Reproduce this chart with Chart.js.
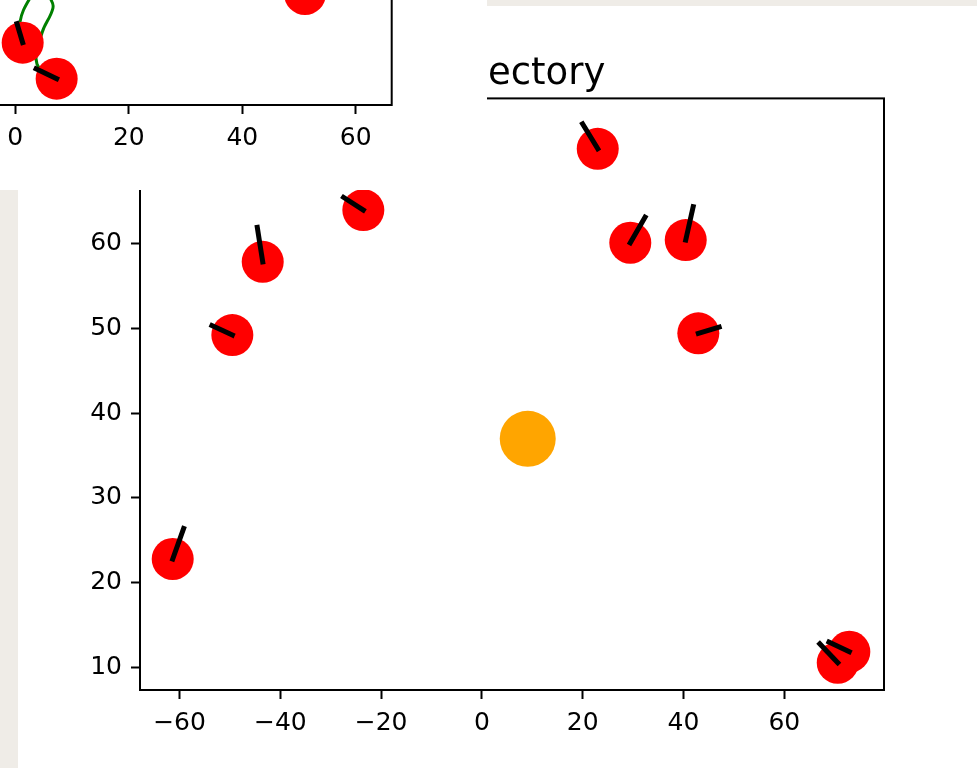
<!DOCTYPE html>
<html>
<head>
<meta charset="utf-8">
<script src="https://cdn.jsdelivr.net/npm/chart.js@4.4.1/dist/chart.umd.min.js"></script>
<style>
    html, body { margin: 0; padding: 0; }
    body {
        width: 977px; height: 768px; overflow: hidden; position: relative;
        background: #efece7;
    }
    #mainWin { position: absolute; left: 18px; top: 6px; width: 959px; height: 762px; background: #fff; overflow: hidden; }
    #mainChart { position: absolute; left: 0; top: 0; }
    #smallWin { position: absolute; left: 0; top: 0; width: 487px; height: 190px; background: #fff; overflow: hidden; }
    #smallChart { position: absolute; left: -200px; top: -200px; }
</style>
</head>
<body>
<div id="mainWin"><canvas id="mainChart" width="992" height="762"></canvas></div>
<div id="smallWin"><canvas id="smallChart" width="687" height="390"></canvas></div>

<script>
// ---- main window: robots, headings (deg), goal ----
const robotX = [-61.35, -49.52, -43.49, -23.53, 22.98, 29.44, 40.44, 42.94, 70.60, 72.90];
const robotY = [22.77, 49.22, 57.87, 63.98, 71.22, 60.12, 60.44, 49.42, 10.52, 11.82];
const robotHeading = [59.0, 164.6, 104.9, 159.0, 135.6, 45.8, 69.4, 10.2, 147.9, 164.2];
const goalX = [9.09];
const goalY = [36.97];
const xTicks = [-60, -40, -20, 0, 20, 40, 60];
const yTicks = [10, 20, 30, 40, 50, 60, 70];
const HEADING_LEN = 4.2;

// ---- small window behind (earlier figure) ----
const prevX = [1.30, 7.29, 51.05];
const prevY = [13.40, 5.66, 23.87];
const prevHeading = [103.8, 149.6, 100];
const pathX = [7.29, 3.82, 4.70, 6.64, 6.11, 4.35, 2.59, 0.83, 1.30];
const pathY = [5.66, 8.82, 15.48, 20.86, 23.0, 25.2, 23.0, 17.85, 13.40];
const prevXTicks = [0, 20, 40, 60];

const FONT = 'DejaVu Sans';

// heading sticks: one small line dataset per robot
function headingSets(xs, ys, hs) {
    return xs.map((x, i) => {
        const a = hs[i] * Math.PI / 180;
        return {
            data: [
                { x: x, y: ys[i] },
                { x: x + HEADING_LEN * Math.cos(a), y: ys[i] + HEADING_LEN * Math.sin(a) }
            ],
            showLine: true,
            borderColor: '#000000',
            borderWidth: 5,
            borderCapStyle: 'square',
            pointRadius: 0,
            order: 0
        };
    });
}

function toPoints(xs, ys) {
    return xs.map((x, i) => ({ x: x, y: ys[i] }));
}

// box around the plot area (matplotlib spines)
const spines = {
    id: 'spines',
    afterDatasetsDraw(chart) {
        const a = chart.chartArea;
        const ctx = chart.ctx;
        ctx.save();
        ctx.strokeStyle = '#000';
        ctx.lineWidth = 2;
        ctx.strokeRect(a.left, a.top, a.right - a.left, a.bottom - a.top);
        ctx.restore();
    }
};

function fixedTicks(list) {
    return function(scale) {
        scale.ticks = list.map(v => ({ value: v }));
    };
}

function axisStyle(list, extra) {
    return Object.assign({
        type: 'linear',
        afterBuildTicks: fixedTicks(list),
        border: { display: false },
        grid: {
            drawOnChartArea: false,
            drawTicks: true,
            tickLength: 9,
            tickWidth: 2,
            tickColor: '#000'
        },
        ticks: {
            color: '#000',
            font: { family: FONT, size: 25 },
            padding: 9,
            includeBounds: false,
            callback: v => String(v).replace('-', '\u2212')
        }
    }, extra);
}

Chart.defaults.animation = false;

// main chart
new Chart(document.getElementById('mainChart'), {
    type: 'scatter',
    data: {
        datasets: [
            ...headingSets(robotX, robotY, robotHeading),
            {
                data: toPoints(robotX, robotY),
                backgroundColor: '#ff0000',
                borderWidth: 0,
                pointRadius: 21,
                order: 1
            },
            {
                data: toPoints(goalX, goalY),
                backgroundColor: '#ffa500',
                borderWidth: 0,
                pointRadius: 28,
                order: 2
            }
        ]
    },
    options: {
        responsive: false,
        events: [],
        layout: { padding: 0 },
        plugins: {
            legend: { display: false },
            tooltip: { enabled: false },
            title: {
                display: true,
                text: 'Trajectory',
                color: '#000',
                font: { family: FONT, size: 37, weight: 'normal' },
                padding: { top: 46, bottom: 2 }
            }
        },
        scales: {
            x: axisStyle(xTicks, {
                min: -67.84, max: 79.78,
                afterFit: s => { s.height = 78; }
            }),
            y: axisStyle(yTicks, {
                min: 7.30, max: 77.17,
                afterFit: s => { s.width = 122; }
            }),
            // empty right axis, keeps the title centred over the plot
            yPad: {
                type: 'linear',
                position: 'right',
                ticks: { display: false },
                grid: { display: false },
                border: { display: false },
                afterFit: s => { s.width = 126; }
            }
        }
    },
    plugins: [spines]
});

// small chart (only its lower right part is on screen)
new Chart(document.getElementById('smallChart'), {
    type: 'scatter',
    data: {
        datasets: [
            ...headingSets(prevX, prevY, prevHeading),
            {
                data: toPoints(prevX, prevY),
                backgroundColor: '#ff0000',
                borderWidth: 0,
                pointRadius: 21,
                order: 1
            },
            {
                data: toPoints(pathX, pathY),
                showLine: true,
                borderColor: '#008000',
                borderWidth: 3,
                tension: 0.4,
                pointRadius: 0,
                order: 2
            }
        ]
    },
    options: {
        responsive: false,
        events: [],
        layout: { padding: { left: 101.8, right: 95.3, top: 26, bottom: 0 } },
        plugins: {
            legend: { display: false },
            tooltip: { enabled: false }
        },
        scales: {
            x: axisStyle(prevXTicks, {
                min: -20, max: 66.33,
                afterFit: s => { s.height = 85; }
            }),
            y: { type: 'linear', display: false, min: 0, max: 60 }
        }
    },
    plugins: [spines]
});
</script>
</body>
</html>
